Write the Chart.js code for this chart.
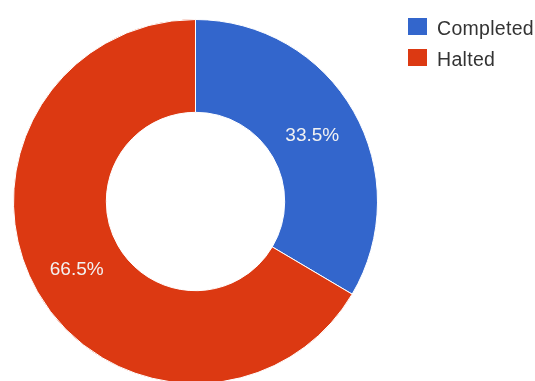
<!DOCTYPE html>
<html>
<head>
<meta charset="utf-8">
<script src="https://cdn.jsdelivr.net/npm/chart.js@4.4.1/dist/chart.umd.min.js"></script>
<style>
  html, body { margin: 0; padding: 0; background: #fff; overflow: hidden; width: 535px; height: 381px; }
  #wrap { position: absolute; left: 0; top: 0; width: 535px; height: 395px; }
  #legend { position: absolute; left: 408px; top: 18px; font-family: "Liberation Sans", Arial, sans-serif; font-size: 19.5px; color: #333; }
  .item { position: absolute; left: 0; white-space: nowrap; height: 18px; }
  .sw { position: absolute; left: 0; top: 0; width: 19px; height: 17px; }
  .lb { position: absolute; left: 29px; top: -1px; line-height: 22px; letter-spacing: 0.3px; }
</style>
</head>
<body>
<div id="wrap"><canvas id="c" width="535" height="395"></canvas></div>
<div id="legend"></div>
<script>
const categories = ["Completed", "Halted"];
const values = [33.5, 66.5];
const colors = ["#3366CC", "#DC3912"];

const legend = document.getElementById('legend');
categories.forEach((name, i) => {
  const it = document.createElement('div');
  it.className = 'item';
  it.style.top = (i * 31) + 'px';
  const sw = document.createElement('div');
  sw.className = 'sw';
  sw.style.background = colors[i];
  const lb = document.createElement('div');
  lb.className = 'lb';
  lb.textContent = name;
  it.appendChild(sw); it.appendChild(lb);
  legend.appendChild(it);
});

const sliceLabels = {
  id: 'sliceLabels',
  afterDatasetsDraw(chart) {
    const ctx = chart.ctx;
    const meta = chart.getDatasetMeta(0);
    const data = chart.data.datasets[0].data;
    const total = data.reduce((a, b) => a + b, 0);
    ctx.save();
    ctx.font = '19px "Liberation Sans", Arial, sans-serif';
    ctx.fillStyle = '#f2f2f2';
    ctx.textAlign = 'center';
    ctx.textBaseline = 'middle';
    meta.data.forEach((arc, i) => {
      const p = arc.getCenterPoint();
      ctx.fillText((data[i] / total * 100).toFixed(1) + '%', p.x - 1, p.y + 1);
    });
    ctx.restore();
  }
};

new Chart(document.getElementById('c'), {
  type: 'doughnut',
  data: {
    labels: categories,
    datasets: [{
      data: values,
      backgroundColor: colors,
      borderColor: '#ffffff',
      borderWidth: 1,
      hoverOffset: 0
    }]
  },
  options: {
    responsive: false,
    animation: false,
    cutout: '49%',
    layout: { padding: { left: 13, top: 19, right: 157, bottom: 11 } },
    plugins: { legend: { display: false }, tooltip: { enabled: false } },
    events: []
  },
  plugins: [sliceLabels]
});
</script>
</body>
</html>
